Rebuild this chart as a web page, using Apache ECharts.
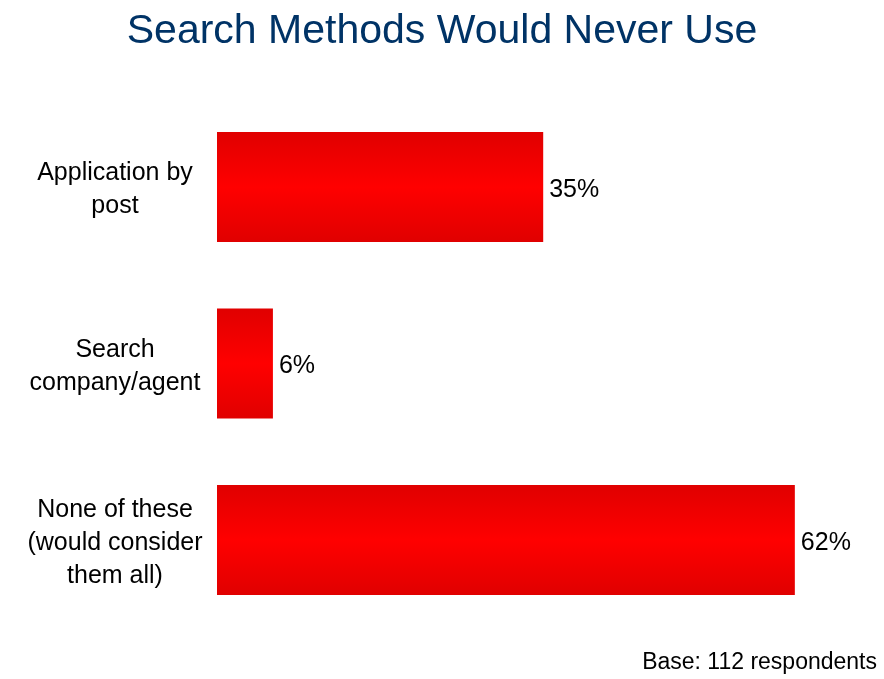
<!DOCTYPE html>
<html>
<head>
<meta charset="utf-8">
<title>Search Methods Would Never Use</title>
<script src="https://cdn.jsdelivr.net/npm/echarts@6/dist/echarts.min.js"></script>
<style>
  html, body { margin: 0; padding: 0; background: #ffffff; }
  #chart { width: 884px; height: 679px; }
</style>
</head>
<body>
<div id="chart"></div>
<script>
// Survey answers, top to bottom
const categories = [
  'Application by\npost',
  'Search\ncompany/agent',
  'None of these\n(would consider\nthem all)'
];
const percentages = [35, 6, 62];
const titleText = 'Search Methods Would Never Use';
const baseNote = 'Base: 112 respondents';

const FONT = '"Liberation Sans", Arial, Helvetica, sans-serif';

const chart = echarts.init(document.getElementById('chart'));

const barFill = new echarts.graphic.LinearGradient(0, 0, 0, 1, [
  { offset: 0, color: '#e00000' },
  { offset: 0.5, color: '#ff0000' },
  { offset: 1, color: '#e00000' }
]);

chart.setOption({
  animation: false,
  backgroundColor: '#ffffff',
  title: {
    text: titleText,
    left: 'center',
    top: 6,
    textStyle: {
      fontFamily: FONT,
      fontSize: 41,
      fontWeight: 'normal',
      color: '#003366'
    }
  },
  graphic: [{
    type: 'text',
    right: 7,
    top: 651,
    style: {
      text: baseNote,
      font: '23px ' + FONT,
      fill: '#000000'
    }
  }],
  grid: {
    left: 217,
    top: 98.75,
    height: 529.5,
    right: 14.6,
    containLabel: false
  },
  xAxis: {
    type: 'value',
    min: 0,
    max: 70,
    show: false
  },
  yAxis: {
    type: 'category',
    data: categories,
    inverse: true,
    axisLine: { show: false },
    axisTick: { show: false },
    splitLine: { show: false },
    axisLabel: {
      margin: 102,
      align: 'center',
      // a thin spacer line nudges the block slightly below the bar centre
      formatter: (v) => '{gap| }\n' + v,
      rich: { gap: { fontSize: 1, lineHeight: 6 } },
      fontFamily: FONT,
      fontSize: 25,
      lineHeight: 33,
      color: '#000000'
    }
  },
  series: [{
    type: 'bar',
    data: percentages,
    barWidth: 110,
    itemStyle: { color: barFill },
    label: {
      show: true,
      position: 'right',
      distance: 6,
      offset: [0, 3],
      formatter: '{c}%',
      fontFamily: FONT,
      fontSize: 25,
      color: '#000000'
    }
  }]
});
</script>
</body>
</html>
